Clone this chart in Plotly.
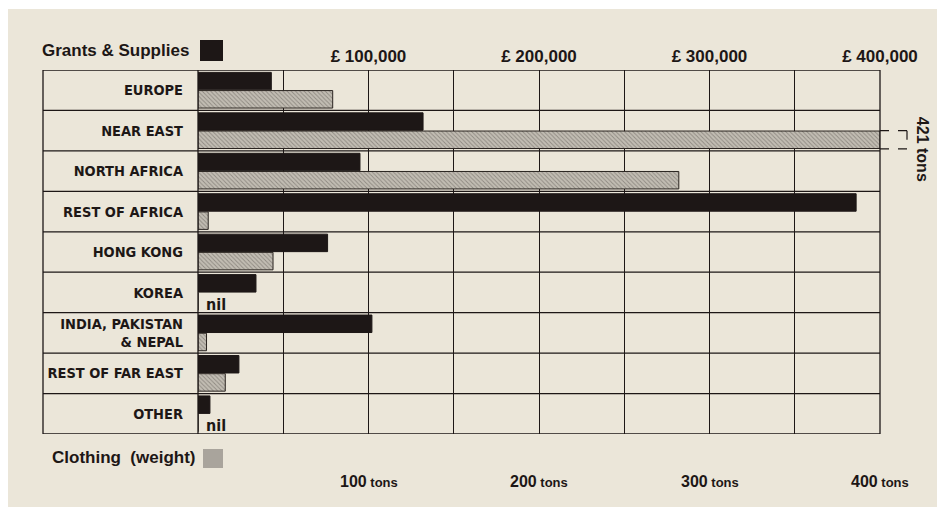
import plotly.graph_objects as go

# ---------------- data ----------------
categories = ["EUROPE", "NEAR EAST", "NORTH AFRICA", "REST OF AFRICA", "HONG KONG",
              "KOREA", "INDIA, PAKISTAN<br>& NEPAL", "REST OF FAR EAST", "OTHER"]
grants_k_gbp = [43, 132, 95, 386, 76, 34, 102, 24, 7]        # £ thousands
clothing_tons = [79, 421, 282, 6, 44, 0, 5, 16, 0]           # tons
top_tick_vals = [100, 200, 300, 400]
top_tick_text = ["£ 100,000", "£ 200,000", "£ 300,000", "£ 400,000"]
bottom_tick_vals = [100, 200, 300, 400]
bottom_tick_nums = ["100", "200", "300", "400"]
X_MAX = 400

# ---------------- style ----------------
BG = "#ebe6d9"
INK = "#1d1716"
LBL_FONT = "Liberation Sans Narrow, Arial Narrow, DejaVu Sans Condensed, sans-serif"
HEAD_FONT = "Liberation Sans, Arial, sans-serif"

# page has an 8px body margin; work in page pixels and convert
OFF = 8
W, H = 945 - OFF, 516 - OFF
PL, PR, PT, PB = 198, 880, 70, 434          # plot area in page pixels
L, R, T, B = PL - OFF, W - (PR - OFF), PT - OFF, H - (PB - OFF)
pw, ph = PR - PL, PB - PT
def px(x):  # page pixel x -> paper
    return (x - PL) / pw
def py(y):  # page pixel y -> paper
    return (PB - y) / ph

shown_clothing = [min(v, X_MAX) for v in clothing_tons]

fig = go.Figure()
fig.add_trace(go.Bar(
    y=categories, x=grants_k_gbp, orientation="h", name="Grants & Supplies",
    marker=dict(color=INK, line=dict(color=INK, width=1)),
))
fig.add_trace(go.Bar(
    y=categories, x=shown_clothing, orientation="h", name="Clothing (weight)",
    marker=dict(color="#bdb8ae", line=dict(color="#2a2420", width=1),
                pattern=dict(shape="\\", fgcolor="#5a5550", bgcolor="#c2bdb3",
                             size=3, solidity=0.3)),
))

shapes = []
# page background (white photo margin shows around it)
shapes.append(dict(type="rect", xref="paper", yref="paper", layer="below",
                   x0=px(OFF), x1=px(960), y0=py(507), y1=py(OFF + 1),
                   fillcolor=BG, line=dict(width=0)))
xl = px(43)
n = len(categories)
# row separators
for i in range(n + 1):
    shapes.append(dict(type="line", xref="paper", yref="y", x0=xl, x1=1,
                       y0=i - 0.5, y1=i - 0.5, line=dict(color=INK, width=1.3)))
# outer verticals
for xv in (xl, 0, 1):
    shapes.append(dict(type="line", xref="paper", yref="y", x0=xv, x1=xv,
                       y0=-0.5, y1=n - 0.5, line=dict(color=INK, width=1.3)))
# bracket for truncated Near East clothing bar
bargap = 0.1
ne = categories.index("NEAR EAST")
y_top, y_bot = ne, ne + (1 - bargap) / 2
xb = px(907)
for (a, b, c, d) in [(1, xb, y_top, y_top), (1, xb, y_bot, y_bot), (xb, xb, y_top, y_bot)]:
    shapes.append(dict(type="line", xref="paper", yref="y", x0=a, x1=b, y0=c, y1=d,
                       line=dict(color=INK, width=1.2, dash="dash")))
# legend swatches
shapes.append(dict(type="rect", xref="paper", yref="paper", x0=px(200), x1=px(223),
                   y0=py(61), y1=py(40), fillcolor=INK, line=dict(width=0)))
shapes.append(dict(type="rect", xref="paper", yref="paper", x0=px(203), x1=px(223),
                   y0=py(468), y1=py(449), fillcolor="#a9a49c", line=dict(width=0)))

annotations = []
annotations.append(dict(xref="paper", yref="paper", x=px(40), y=py(51), xanchor="left",
                        yanchor="middle", showarrow=False, text="<b>Grants & Supplies</b>",
                        font=dict(family=HEAD_FONT, size=17, color=INK)))
annotations.append(dict(xref="paper", yref="paper", x=px(50), y=py(457), xanchor="left",
                        yanchor="middle", showarrow=False, text="<b>Clothing  (weight)</b>",
                        font=dict(family=HEAD_FONT, size=17, color=INK)))
for v, t in zip(bottom_tick_vals, bottom_tick_nums):
    annotations.append(dict(xref="x", yref="paper", x=v, y=py(481), xanchor="center",
                            yanchor="middle", showarrow=False,
                            text=f"<b>{t}</b><b><span style='font-size:13px'> tons</span></b>",
                            font=dict(family=HEAD_FONT, size=16, color=INK)))
for c, v in zip(categories, clothing_tons):
    if v == 0:
        annotations.append(dict(xref="x", yref="y", x=0, y=c, xanchor="left",
                                yanchor="middle", xshift=6, yshift=-12, showarrow=False,
                                text="<b>nil</b>",
                                font=dict(family=LBL_FONT, size=16, color=INK)))
annotations.append(dict(xref="paper", yref="y", x=px(922), y=ne + 0.45, textangle=90,
                        xanchor="center", yanchor="middle", showarrow=False,
                        text=f"<b>{clothing_tons[ne]} tons</b>",
                        font=dict(family=HEAD_FONT, size=16, color=INK)))

fig.update_layout(
    width=W, height=H, margin=dict(l=L, r=R, t=T, b=B),
    paper_bgcolor="white", plot_bgcolor="rgba(0,0,0,0)",
    barmode="group", bargap=bargap, bargroupgap=0.04,
    showlegend=False, shapes=shapes, annotations=annotations,
    xaxis=dict(range=[0, X_MAX], side="top", tickmode="array",
               tickvals=top_tick_vals, ticktext=[f"<b>{t}</b>" for t in top_tick_text],
               tickfont=dict(family=HEAD_FONT, size=17, color=INK),
               ticklabelstandoff=4,
               showgrid=True, gridcolor=INK, gridwidth=1.1,
               minor=dict(dtick=50, showgrid=True, gridcolor=INK, gridwidth=1.1),
               zeroline=False, ticks="", fixedrange=True),
    yaxis=dict(type="category", categoryorder="array", categoryarray=categories,
               range=[n - 0.5, -0.5], showgrid=False, zeroline=False, ticks="",
               ticklabelstandoff=14,
               tickfont=dict(family=LBL_FONT, size=14.5, color=INK),
               tickvals=categories, ticktext=[f"<b>{c}</b>" for c in categories]),
)

fig.write_html("out.html")
